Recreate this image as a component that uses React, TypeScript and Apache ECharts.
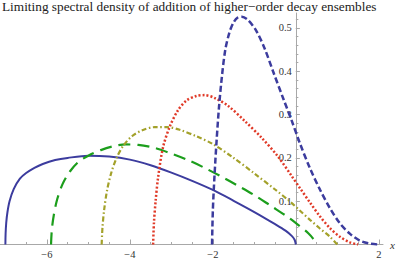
import React, { useEffect, useRef } from 'react';
import * as echarts from 'echarts';

const titleText = 'Limiting spectral density of addition of higher−order decay ensembles';
const axisName = 'x';

const xLabelValues = [-6, -4, -2, 2];
const xMinorTicks = [-7, -6.5, -6, -5.5, -5, -4.5, -4, -3.5, -3, -2.5, -2, -1.5, -1, -0.5, 0.5, 1, 1.5, 2];
const yLabelValues = [0.1, 0.2, 0.3, 0.4, 0.5];
const yMinorTicks = [0.02, 0.04, 0.06, 0.08, 0.1, 0.12, 0.14, 0.16, 0.18, 0.2, 0.22, 0.24, 0.26, 0.28, 0.3, 0.32, 0.34, 0.36, 0.38, 0.4, 0.42, 0.44, 0.46, 0.48, 0.5, 0.52];

const seriesNames = ['order 1', 'order 2', 'order 3', 'order 4', 'order 5'];

const solidBlue: [number, number][] = [
  [-7.0, 0], [-6.995, 0.025], [-6.98, 0.05], [-6.95, 0.075], [-6.9, 0.1], [-6.8, 0.128],
  [-6.65, 0.152], [-6.5, 0.165], [-6.3, 0.177], [-6.1, 0.186], [-5.8, 0.195], [-5.5, 0.2],
  [-5.0, 0.205], [-4.5, 0.203], [-4.0, 0.196], [-3.5, 0.183], [-3.0, 0.166], [-2.5, 0.147],
  [-2.0, 0.126], [-1.5, 0.101], [-1.0, 0.075], [-0.5, 0.047], [-0.25, 0.032], [-0.1, 0.02],
  [-0.03, 0.011], [0, 0],
];

const dashedGreen: [number, number][] = [
  [-5.9, 0], [-5.88, 0.035], [-5.83, 0.07], [-5.75, 0.105], [-5.62, 0.14], [-5.45, 0.168],
  [-5.25, 0.19], [-5.0, 0.205], [-4.7, 0.218], [-4.4, 0.227], [-4.1, 0.231], [-3.8, 0.23],
  [-3.4, 0.223], [-3.0, 0.21], [-2.6, 0.195], [-2.2, 0.177], [-1.8, 0.157], [-1.4, 0.136],
  [-1.0, 0.114], [-0.6, 0.089], [-0.2, 0.064], [0.1, 0.042], [0.3, 0.026], [0.42, 0.013], [0.5, 0],
];

const dotDashOlive: [number, number][] = [
  [-4.68, 0], [-4.66, 0.04], [-4.62, 0.08], [-4.55, 0.125], [-4.45, 0.165], [-4.32, 0.2],
  [-4.16, 0.228], [-3.95, 0.25], [-3.7, 0.264], [-3.4, 0.271], [-3.1, 0.271], [-2.8, 0.265],
  [-2.4, 0.25], [-2.0, 0.232], [-1.5, 0.2], [-1.0, 0.164], [-0.5, 0.127], [-0.14, 0.099],
  [0.1, 0.078], [0.34, 0.057], [0.58, 0.037], [0.82, 0.018], [1.0, 0],
];

const dottedRed: [number, number][] = [
  [-3.44, 0], [-3.42, 0.05], [-3.38, 0.1], [-3.32, 0.155], [-3.2, 0.225], [-3.04, 0.272],
  [-2.84, 0.31], [-2.63, 0.333], [-2.4, 0.343], [-2.2, 0.345], [-1.95, 0.338], [-1.63, 0.32],
  [-1.23, 0.285], [-0.83, 0.247], [-0.43, 0.203], [-0.1, 0.158], [0.1, 0.13], [0.34, 0.097],
  [0.58, 0.065], [0.82, 0.038], [1.06, 0.018], [1.3, 0.005], [1.5, 0],
];

const dashedBlue: [number, number][] = [
  [-2.02, 0], [-2.0, 0.08], [-1.96, 0.16], [-1.91, 0.24], [-1.85, 0.32], [-1.78, 0.39],
  [-1.7, 0.45], [-1.6, 0.49], [-1.5, 0.513], [-1.4, 0.524], [-1.3, 0.526], [-1.15, 0.518],
  [-0.95, 0.493], [-0.75, 0.452], [-0.55, 0.4], [-0.3, 0.336], [-0.1, 0.286], [0.1, 0.233],
  [0.34, 0.176], [0.58, 0.127], [0.82, 0.084], [1.06, 0.049], [1.3, 0.025], [1.54, 0.009],
  [1.78, 0.002], [2.0, 0],
];

const FONT = "'Liberation Serif', 'DejaVu Serif', serif";
const AXIS_COLOR = '#a8a8a8';
const LABEL_COLOR = '#333';
const X_MIN = -7.13;
const X_MAX = 2.1;
const GRID_LEFT = 0;
const GRID_RIGHT = 16;
const CHART_W = 399;

export default function App() {
  const ref = useRef<HTMLDivElement>(null);
  useEffect(() => {
    if (!ref.current) return;
    const chart = echarts.init(ref.current, undefined, { renderer: 'svg' });
    const plotW = CHART_W - GRID_LEFT - GRID_RIGHT;
    const zeroOffset = ((0 - X_MIN) / (X_MAX - X_MIN)) * plotW;
    const lineSeries = (
      name: string,
      data: [number, number][],
      color: string,
      width: number,
      type: any
    ) => ({
      name,
      type: 'line',
      data,
      xAxisIndex: 0,
      yAxisIndex: 0,
      showSymbol: false,
      smooth: 0.3,
      clip: true,
      lineStyle: { color, width, type, cap: 'butt' },
      emphasis: { disabled: true },
    });
    chart.setOption({
      animation: false,
      backgroundColor: '#fff',
      title: {
        text: titleText,
        left: 2,
        top: 0,
        padding: 0,
        textStyle: { fontFamily: FONT, fontSize: 13.3, fontWeight: 'normal', color: '#222' },
      },
      grid: {
        left: GRID_LEFT,
        right: GRID_RIGHT,
        top: 13,
        bottom: 16.5,
        containLabel: false,
        outerBoundsMode: 'none',
      },
      xAxis: [
        {
          type: 'value',
          min: X_MIN,
          max: X_MAX,
          position: 'bottom',
          name: axisName,
          nameLocation: 'end',
          nameGap: 7,
          nameTextStyle: {
            fontFamily: FONT,
            fontStyle: 'italic',
            fontSize: 11,
            color: LABEL_COLOR,
            verticalAlign: 'middle',
            padding: [0, 0, 5, 0],
          },
          axisLine: { show: true, onZero: false, lineStyle: { color: AXIS_COLOR, width: 1 } },
          axisTick: {
            show: true,
            inside: true,
            length: 5,
            customValues: xLabelValues,
            lineStyle: { color: AXIS_COLOR },
          },
          axisLabel: {
            show: true,
            customValues: xLabelValues,
            margin: 4,
            fontFamily: FONT,
            fontSize: 10.5,
            color: LABEL_COLOR,
            formatter: (v: number) => String(v).replace('-', '−'),
          },
          splitLine: { show: false },
        },
        {
          type: 'value',
          min: X_MIN,
          max: X_MAX,
          position: 'bottom',
          axisLine: { show: false, onZero: false },
          axisTick: {
            show: true,
            inside: true,
            length: 2.5,
            customValues: xMinorTicks,
            lineStyle: { color: AXIS_COLOR },
          },
          axisLabel: { show: false },
          splitLine: { show: false },
        },
      ],
      yAxis: [
        {
          type: 'value',
          min: 0,
          max: 0.5346,
          position: 'left',
          offset: -zeroOffset,
          axisLine: { show: true, onZero: false, lineStyle: { color: AXIS_COLOR, width: 1 } },
          axisTick: {
            show: true,
            inside: true,
            length: 4,
            customValues: yLabelValues,
            lineStyle: { color: AXIS_COLOR },
          },
          axisLabel: {
            show: true,
            customValues: yLabelValues,
            margin: 4,
            fontFamily: FONT,
            fontSize: 10.5,
            color: LABEL_COLOR,
            formatter: (v: number) => v.toFixed(1),
          },
          splitLine: { show: false },
        },
        {
          type: 'value',
          min: 0,
          max: 0.5346,
          position: 'left',
          offset: -zeroOffset,
          axisLine: { show: false, onZero: false },
          axisTick: {
            show: true,
            inside: true,
            length: 2.5,
            customValues: yMinorTicks,
            lineStyle: { color: AXIS_COLOR },
          },
          axisLabel: { show: false },
          splitLine: { show: false },
        },
      ],
      series: [
        lineSeries(seriesNames[0], solidBlue, '#3c3c9e', 2, 'solid'),
        lineSeries(seriesNames[1], dashedGreen, '#1c9e1c', 2.2, [12, 7]),
        lineSeries(seriesNames[2], dotDashOlive, '#a3a12a', 2.2, [5, 2.5, 1.5, 2.5]),
        lineSeries(seriesNames[3], dottedRed, '#e03a28', 2.5, [2, 2]),
        lineSeries(seriesNames[4], dashedBlue, '#3c3c9e', 2.5, [6, 3]),
      ],
    });
    return () => chart.dispose();
  }, []);
  return (
    <div
      ref={ref}
      style={{ position: 'fixed', left: 0, top: 0, width: CHART_W, height: 261, background: '#fff' }}
    />
  );
}
